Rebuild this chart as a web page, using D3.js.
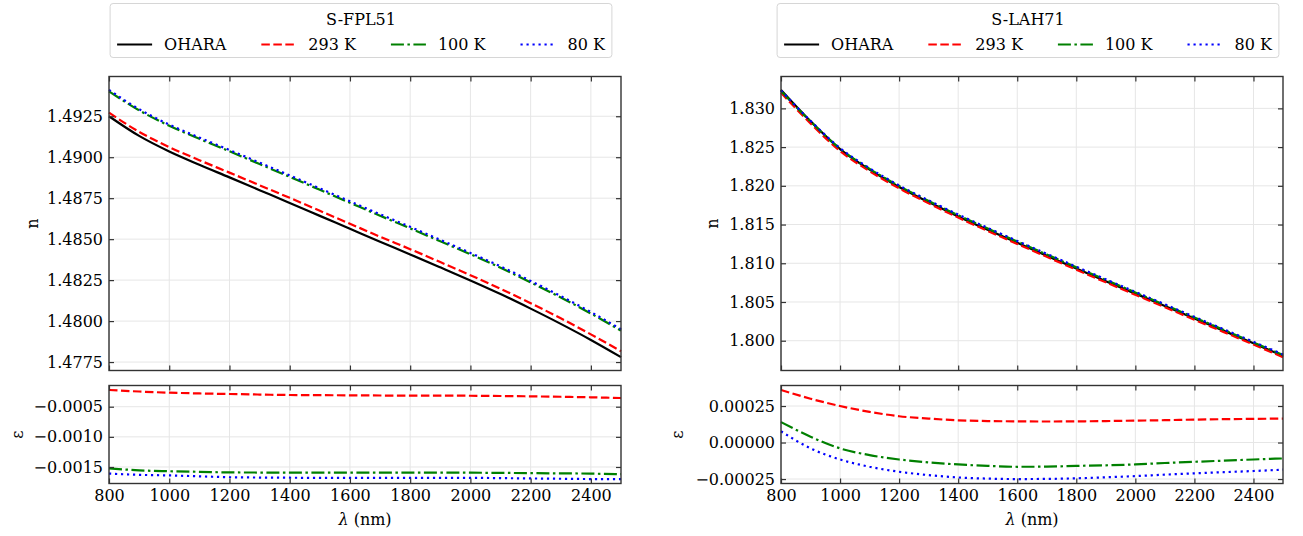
<!DOCTYPE html>
<html>
<head>
<meta charset="utf-8">
<script src="https://cdn.jsdelivr.net/npm/d3@7"></script>
<style>
  body { margin: 0; background: #fff; }
  text { font-family: "DejaVu Serif", serif; fill: #000; }
</style>
</head>
<body>
<svg id="chart" width="1303" height="536"></svg>
<script>
// wavelength grid (nm)
const wavelength = [800, 900, 1000, 1100, 1200, 1300, 1400, 1500, 1600, 1700, 1800, 1900, 2000, 2100, 2200, 2300, 2400, 2500];

// S-FPL51 refractive index
const fplOhara = [1.4925, 1.4913, 1.49035, 1.48954, 1.48877, 1.48799, 1.48721, 1.48642, 1.48563, 1.48484, 1.48407, 1.48328, 1.48248, 1.48165, 1.48076, 1.47983, 1.47885, 1.4778];
const fpl293 = [1.49272, 1.49155, 1.49062, 1.48982, 1.48906, 1.48829, 1.48752, 1.48673, 1.48594, 1.48515, 1.48439, 1.4836, 1.4828, 1.48197, 1.48109, 1.48017, 1.47919, 1.47816];
const fpl100 = [1.49402, 1.49286, 1.49192, 1.49112, 1.49036, 1.48958, 1.4888, 1.48801, 1.48722, 1.48643, 1.48566, 1.48487, 1.48408, 1.48325, 1.48236, 1.48144, 1.48046, 1.47942];
const fpl80 = [1.49411, 1.49293, 1.49199, 1.4912, 1.49044, 1.48967, 1.48889, 1.4881, 1.48731, 1.48652, 1.48575, 1.48496, 1.48416, 1.48334, 1.48245, 1.48153, 1.48055, 1.4795];

// S-FPL51 deviation
const fplEps293 = [-0.000222, -0.000248, -0.000267, -0.00028, -0.000289, -0.000298, -0.000306, -0.000309, -0.000311, -0.000314, -0.000317, -0.000317, -0.000318, -0.000322, -0.000328, -0.000335, -0.000344, -0.000356];
const fplEps100 = [-0.001522, -0.001556, -0.00157, -0.00158, -0.00159, -0.001592, -0.001593, -0.001594, -0.001594, -0.001594, -0.001594, -0.001594, -0.001595, -0.001598, -0.001602, -0.001606, -0.00161, -0.00162];
const fplEps80 = [-0.00161, -0.00163, -0.00164, -0.001655, -0.00167, -0.001675, -0.001678, -0.00168, -0.00168, -0.00168, -0.00168, -0.00168, -0.00168, -0.001685, -0.00169, -0.001695, -0.0017, -0.0017];

// S-LAH71 refractive index
const lahOhara = [1.83239, 1.82835, 1.82475, 1.8221, 1.81985, 1.8179, 1.81605, 1.81432, 1.81264, 1.81097, 1.80931, 1.80769, 1.80608, 1.80448, 1.80287, 1.80127, 1.79966, 1.79804];
const lah293 = [1.83203, 1.82805, 1.8245, 1.82189, 1.81967, 1.81774, 1.8159, 1.81417, 1.8125, 1.81083, 1.80917, 1.80754, 1.80593, 1.80433, 1.80271, 1.80111, 1.7995, 1.79788];
const lah100 = [1.83225, 1.82831, 1.82479, 1.82219, 1.81997, 1.81804, 1.8162, 1.81448, 1.81281, 1.81114, 1.80947, 1.80785, 1.80623, 1.80462, 1.803, 1.80139, 1.79978, 1.79815];
const lah80 = [1.83231, 1.82839, 1.82487, 1.82227, 1.82005, 1.81812, 1.81629, 1.81457, 1.81289, 1.81122, 1.80956, 1.80793, 1.80631, 1.8047, 1.80308, 1.80147, 1.79986, 1.79823];

// S-LAH71 deviation
const lahEps293 = [0.00036, 0.0003, 0.00025, 0.00021, 0.00018, 0.000164, 0.000152, 0.000147, 0.000145, 0.000144, 0.000145, 0.000147, 0.00015, 0.000153, 0.000157, 0.00016, 0.000162, 0.000164];
const lahEps100 = [0.00014, 0.00004, -0.00004, -0.000086, -0.000116, -0.000136, -0.00015, -0.00016, -0.000166, -0.000165, -0.00016, -0.000156, -0.00015, -0.00014, -0.000132, -0.000124, -0.000116, -0.000109];
const lahEps80 = [0.000077, -0.00004, -0.000116, -0.000166, -0.0002, -0.000223, -0.000239, -0.000247, -0.00025, -0.000249, -0.000245, -0.000238, -0.00023, -0.00022, -0.000211, -0.000203, -0.000195, -0.000186];

// ticks and labels
const xTicks = [800, 1000, 1200, 1400, 1600, 1800, 2000, 2200, 2400];
const fplNTicks = [1.4775, 1.48, 1.4825, 1.485, 1.4875, 1.49, 1.4925];
const fplEpsTicks = [-0.0015, -0.001, -0.0005];
const lahNTicks = [1.8, 1.805, 1.81, 1.815, 1.82, 1.825, 1.83];
const lahEpsTicks = [-0.00025, 0, 0.00025];
const seriesLabels = ['OHARA', '293 K', '100 K', '80 K'];

const styles = [
  { color: '#000000', dash: null },
  { color: '#ff0000', dash: '8.5,3.5' },
  { color: '#008000', dash: '13,3.5,2.5,3.5' },
  { color: '#0000ff', dash: '2.2,3.8' }
];

const svg = d3.select('#chart');

const panels = [
  {
    title: 'S-FPL51', left: 109, right: 621,
    n: [fplOhara, fpl293, fpl100, fpl80], eps: [fplEps293, fplEps100, fplEps80],
    nTicks: fplNTicks, epsTicks: fplEpsTicks, nFmt: d3.format('.4f'), epsFmt: d3.format('.4f'),
    nLabelX: 32, epsLabelX: 17
  },
  {
    title: 'S-LAH71', left: 781, right: 1283,
    n: [lahOhara, lah293, lah100, lah80], eps: [lahEps293, lahEps100, lahEps80],
    nTicks: lahNTicks, epsTicks: lahEpsTicks, nFmt: d3.format('.3f'), epsFmt: d3.format('.5f'),
    nLabelX: 712, epsLabelX: 677
  }
];

const topBox = { top: 76.5, bottom: 370.5 };
const botBox = { top: 385.5, bottom: 483.5 };

// matplotlib style 5% margins
function paddedDomain(arrays) {
  const ext = d3.extent(arrays.flat());
  const pad = (ext[1] - ext[0]) * 0.05;
  return [ext[0] - pad, ext[1] + pad];
}

function drawAxes(p, box, yDomain, yTicks, yFmt, series, styleOffset, showX, ylabel, ylabelX) {
  const x = d3.scaleLinear().domain([800, 2500]).range([p.left, p.right]);
  const y = d3.scaleLinear().domain(yDomain).range([box.bottom, box.top]);

  const g = svg.append('g');

  // grid
  g.append('g').selectAll('line.gx').data(xTicks).enter().append('line')
    .attr('x1', d => x(d)).attr('x2', d => x(d))
    .attr('y1', box.top).attr('y2', box.bottom)
    .attr('stroke', '#e6e6e6').attr('stroke-width', 1);
  g.append('g').selectAll('line.gy').data(yTicks).enter().append('line')
    .attr('x1', p.left).attr('x2', p.right)
    .attr('y1', d => y(d)).attr('y2', d => y(d))
    .attr('stroke', '#e6e6e6').attr('stroke-width', 1);

  // data lines
  const line = d3.line()
    .x((d, i) => x(wavelength[i]))
    .y(d => y(d))
    .curve(d3.curveMonotoneX);

  series.forEach((s, i) => {
    const st = styles[i + styleOffset];
    g.append('path')
      .datum(s)
      .attr('d', line)
      .attr('fill', 'none')
      .attr('stroke', st.color)
      .attr('stroke-width', 2.2)
      .attr('stroke-dasharray', st.dash);
  });

  // axes, ticks pointing in
  const xBottom = d3.axisBottom(x).tickValues(xTicks).tickSizeInner(-5).tickSizeOuter(0).tickPadding(6)
    .tickFormat(showX ? d3.format('d') : '');
  const xTop = d3.axisTop(x).tickValues(xTicks).tickSizeInner(-5).tickSizeOuter(0).tickFormat('');
  const yLeft = d3.axisLeft(y).tickValues(yTicks).tickSizeInner(-5).tickSizeOuter(0).tickPadding(6).tickFormat(yFmt);
  const yRight = d3.axisRight(y).tickValues(yTicks).tickSizeInner(-5).tickSizeOuter(0).tickFormat('');

  [
    g.append('g').attr('transform', `translate(0,${box.bottom})`).call(xBottom),
    g.append('g').attr('transform', `translate(0,${box.top})`).call(xTop),
    g.append('g').attr('transform', `translate(${p.left},0)`).call(yLeft),
    g.append('g').attr('transform', `translate(${p.right},0)`).call(yRight)
  ].forEach(a => {
    a.select('.domain').remove();
    a.selectAll('line').attr('stroke', '#333').attr('stroke-width', 1.2);
    a.selectAll('text').style('font-family', '"DejaVu Serif", serif').style('font-size', '16px').attr('fill', '#000');
  });

  // frame
  g.append('rect')
    .attr('x', p.left).attr('y', box.top)
    .attr('width', p.right - p.left).attr('height', box.bottom - box.top)
    .attr('fill', 'none').attr('stroke', '#333').attr('stroke-width', 1.4);

  g.append('text')
    .attr('transform', `translate(${ylabelX},${(box.top + box.bottom) / 2}) rotate(-90)`)
    .attr('text-anchor', 'middle').attr('dy', '0.35em')
    .style('font-size', '16px')
    .text(ylabel);

  if (showX) {
    const t = g.append('text')
      .attr('x', (p.left + p.right) / 2).attr('y', 525)
      .attr('text-anchor', 'middle').style('font-size', '16px');
    t.append('tspan').attr('font-style', 'italic').text('λ');
    t.append('tspan').text(' (nm)');
  }
}

function drawLegend(p) {
  const lg = svg.append('g');
  const box = lg.append('rect');
  const handleLen = 35, gap = 12, colSpace = 35;
  let cx = 7;
  seriesLabels.forEach((lab, i) => {
    const st = styles[i];
    lg.append('line')
      .attr('x1', cx).attr('x2', cx + handleLen)
      .attr('y1', 41).attr('y2', 41)
      .attr('stroke', st.color).attr('stroke-width', 2.2)
      .attr('stroke-dasharray', st.dash);
    const t = lg.append('text')
      .attr('x', cx + handleLen + gap).attr('y', 41).attr('dy', '0.35em')
      .style('font-size', '16px').text(lab);
    cx += handleLen + gap + t.node().getComputedTextLength() + colSpace;
  });
  const width = cx - colSpace + 7;
  lg.append('text')
    .attr('x', width / 2).attr('y', 16).attr('dy', '0.35em')
    .attr('text-anchor', 'middle').style('font-size', '16px')
    .text(p.title);
  box.attr('x', 0).attr('y', 0).attr('width', width).attr('height', 54)
    .attr('rx', 3).attr('fill', '#fff').attr('stroke', '#d6d6d6').attr('stroke-width', 1);
  const center = (p.left + p.right) / 2 - 4;
  lg.attr('transform', `translate(${center - width / 2},3.5)`);
}

panels.forEach(p => {
  drawAxes(p, topBox, paddedDomain(p.n), p.nTicks, p.nFmt, p.n, 0, false, 'n', p.nLabelX);
  drawAxes(p, botBox, paddedDomain(p.eps), p.epsTicks, p.epsFmt, p.eps, 1, true, 'ε', p.epsLabelX);
  drawLegend(p);
});
</script>
</body>
</html>
